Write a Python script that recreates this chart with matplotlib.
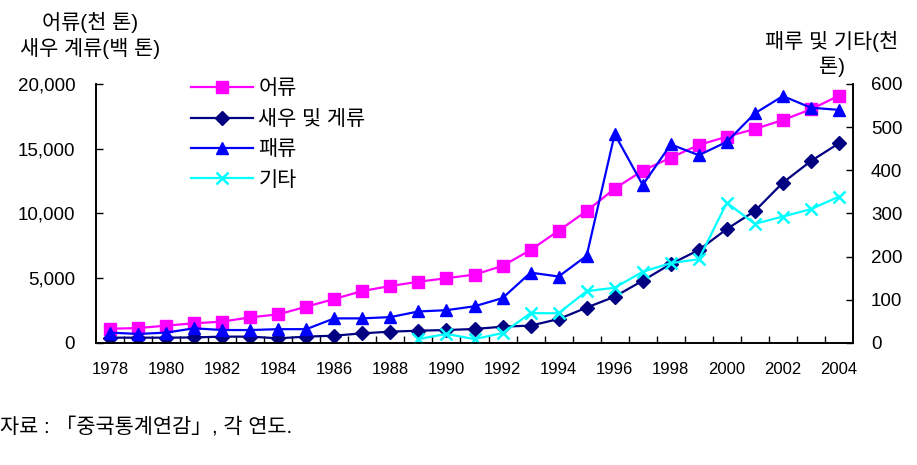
#China fishery production chart

#import the libraries
import numpy as np
import matplotlib.pyplot as plt

plt.rcParams['font.family'] = ['Liberation Sans', 'Noto Sans CJK KR', 'DejaVu Sans']

#data
years = list(range(1978, 2005))
fish = [1100, 1150, 1340, 1520, 1650, 1980, 2210, 2800, 3400, 4015, 4400, 4730, 5000, 5280,
        5950, 7180, 8670, 10190, 11920, 13310, 14310, 15290, 15930, 16525, 17220, 18045, 19100]
shrimp = [410, 410, 410, 430, 490, 490, 360, 490, 565, 745, 875, 950, 1000, 1080,
          1260, 1340, 1850, 2730, 3580, 4810, 6100, 7180, 8800, 10190, 12380, 14050, 15420]
shell = [24, 21, 24, 34, 30, 30, 32, 32, 57, 57, 60, 73, 76, 85,
         104, 163, 154, 202, 484, 366, 460, 435, 466, 532, 572, 545, 540]
other_years = list(range(1989, 2005))
other = [9, 21, 9, 23, 69, 69, 120, 128, 165, 185, 194, 325, 276, 293, 310, 339]

left_ticks = [0, 5000, 10000, 15000, 20000]
right_ticks = [0, 100, 200, 300, 400, 500, 600]
year_labels = list(range(1978, 2005, 2))

#figure and axes
fig = plt.figure(figsize=(9.17, 4.65), dpi=100)
ax = fig.add_axes([0.1047, 0.2624, 0.8255, 0.557])
ax2 = ax.twinx()

l1, = ax.plot(years, fish, color="#FF00FF", lw=1.6, marker="s", ms=9, label="어류")
l2, = ax.plot(years, shrimp, color="#000080", lw=1.6, marker="D", ms=7, label="새우 및 게류")
l3, = ax2.plot(years, shell, color="#0000FF", lw=1.6, marker="^", ms=9, label="패류")
l4, = ax2.plot(other_years, other, color="#00FFFF", lw=1.6, marker="x", ms=9, mew=1.8, label="기타")

ax.set_xlim(1977.5, 2004.5)
ax.set_ylim(0, 20000)
ax2.set_ylim(0, 600)
ax.set_yticks(left_ticks)
ax.set_yticklabels([f"{v:,}" for v in left_ticks])
ax2.set_yticks(right_ticks)
ax.set_xticks(year_labels)
ax.set_xticks(np.arange(1978.5, 2004, 1), minor=True)
ax.tick_params(axis="x", which="major", length=0, pad=14, labelsize=12)
ax.tick_params(axis="x", which="minor", direction="in", length=5, width=1)
ax.tick_params(axis="y", direction="in", length=5, width=1, pad=15, labelsize=13.5)
ax2.tick_params(axis="y", direction="in", length=5, width=1, pad=13, labelsize=13.5)

for a in (ax, ax2):
    a.spines["top"].set_visible(False)
    for s in ("left", "right", "bottom"):
        a.spines[s].set_linewidth(1.2)

#legend
leg = ax.legend(handles=[l1, l2, l3, l4], loc="upper left", bbox_to_anchor=(0.114, 1.05),
                frameon=False, fontsize=15, handlelength=3.0, handletextpad=0.25,
                labelspacing=0.55, borderaxespad=0)

#axis titles and source
fig.text(90 / 917, 1 - 22 / 465, "어류(천 톤)", ha="center", va="center", fontsize=15)
fig.text(90 / 917, 1 - 48 / 465, "새우 계류(백 톤)", ha="center", va="center", fontsize=15)
fig.text(832 / 917, 1 - 54 / 465, "패루 및 기타(천\n톤)", ha="center", va="center",
         fontsize=15, linespacing=1.25)
fig.text(0, 1 - 427 / 465, "자료 : 「중국통계연감」, 각 연도.", ha="left", va="center", fontsize=15)

fig.savefig("out.png", dpi=100)
